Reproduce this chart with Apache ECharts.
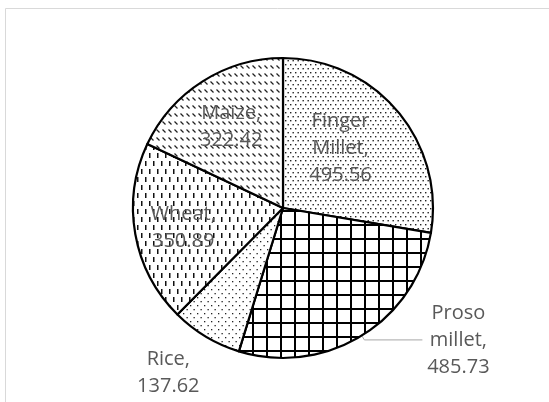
<!DOCTYPE html>
<html>
<head>
<meta charset="utf-8">
<script src="https://cdn.jsdelivr.net/npm/echarts@6/dist/echarts.min.js"></script>
<style>
  body { margin: 0; background: #fff; }
  #cropChart { width: 549px; height: 402px; }
</style>
</head>
<body>
<div id="cropChart"></div>
<script>
// crops and their values, clockwise from 12 o'clock
var cropNames = ['Finger\nMillet', 'Proso\nmillet', 'Rice', 'Wheat', 'Maize'];
var cropValues = [495.56, 485.73, 137.62, 350.89, 322.42];

// small canvas tiles used as hatch fills
function makeTile(w, h, draw) {
    var c = document.createElement('canvas');
    c.width = w;
    c.height = h;
    var ctx = c.getContext('2d');
    ctx.fillStyle = '#fff';
    ctx.fillRect(0, 0, w, h);
    draw(ctx);
    return { image: c, repeat: 'repeat' };
}

var denseDots = makeTile(5, 8, function (ctx) {
    ctx.fillStyle = '#222';
    ctx.fillRect(0, 0, 1.4, 1.4);
    ctx.fillRect(2.5, 4, 1.4, 1.4);
});
var gridHatch = makeTile(14, 14, function (ctx) {
    ctx.fillStyle = '#000';
    ctx.fillRect(0, 0, 2, 14);
    ctx.fillRect(0, 0, 14, 2);
});
var sparseDots = makeTile(7, 8, function (ctx) {
    ctx.fillStyle = '#222';
    ctx.fillRect(1, 1, 1.3, 1.3);
    ctx.fillRect(4.5, 5, 1.3, 1.3);
});
var vertDashes = makeTile(8, 16, function (ctx) {
    ctx.fillStyle = '#111';
    ctx.fillRect(1, 1, 1.5, 5);
    ctx.fillRect(5, 9, 1.5, 5);
});
var diagDashes = makeTile(6, 8, function (ctx) {
    ctx.strokeStyle = '#222';
    ctx.lineWidth = 1.2;
    ctx.beginPath();
    ctx.moveTo(0.5, 1.5);
    ctx.lineTo(3.5, 4.5);
    ctx.stroke();
});
var fills = [denseDots, gridHatch, sparseDots, vertDashes, diagDashes];

// nudges for the label text only
var labelShift = [
    { dx: -2, dy: -9 },
    { align: 'center', dx: 31 },
    { align: 'center', dx: 28, dy: 32 },
    { dx: -23, dy: 6 },
    { dx: -10, dy: -15 }
];
var insideLabel = [true, false, false, true, true];

var pieData = cropNames.map(function (n, i) {
    return {
        name: n,
        value: cropValues[i],
        itemStyle: { color: fills[i] },
        label: { position: insideLabel[i] ? 'inside' : 'outside' },
        labelLine: { show: i === 1 }
    };
});

var cropChart = echarts.init(document.getElementById('cropChart'));
cropChart.setOption({
    animation: false,
    graphic: [{
        type: 'rect',
        silent: true,
        shape: { x: 5.5, y: 8.5, width: 700, height: 600 },
        style: { fill: 'none', stroke: '#d9d9d9', lineWidth: 1 }
    }],
    series: [{
        type: 'pie',
        center: [283, 208],
        radius: 150,
        startAngle: 90,
        clockwise: true,
        avoidLabelOverlap: false,
        data: pieData,
        itemStyle: { borderColor: '#000', borderWidth: 2.2 },
        label: {
            formatter: '{b},\n{c}',
            color: '#595959',
            fontFamily: 'Open Sans',
            fontSize: 20,
            lineHeight: 27
        },
        labelLine: {
            length: 5,
            length2: 58,
            lineStyle: { color: '#a6a6a6', width: 1 }
        },
        labelLayout: function (params) {
            return labelShift[params.dataIndex];
        }
    }]
});
</script>
</body>
</html>
